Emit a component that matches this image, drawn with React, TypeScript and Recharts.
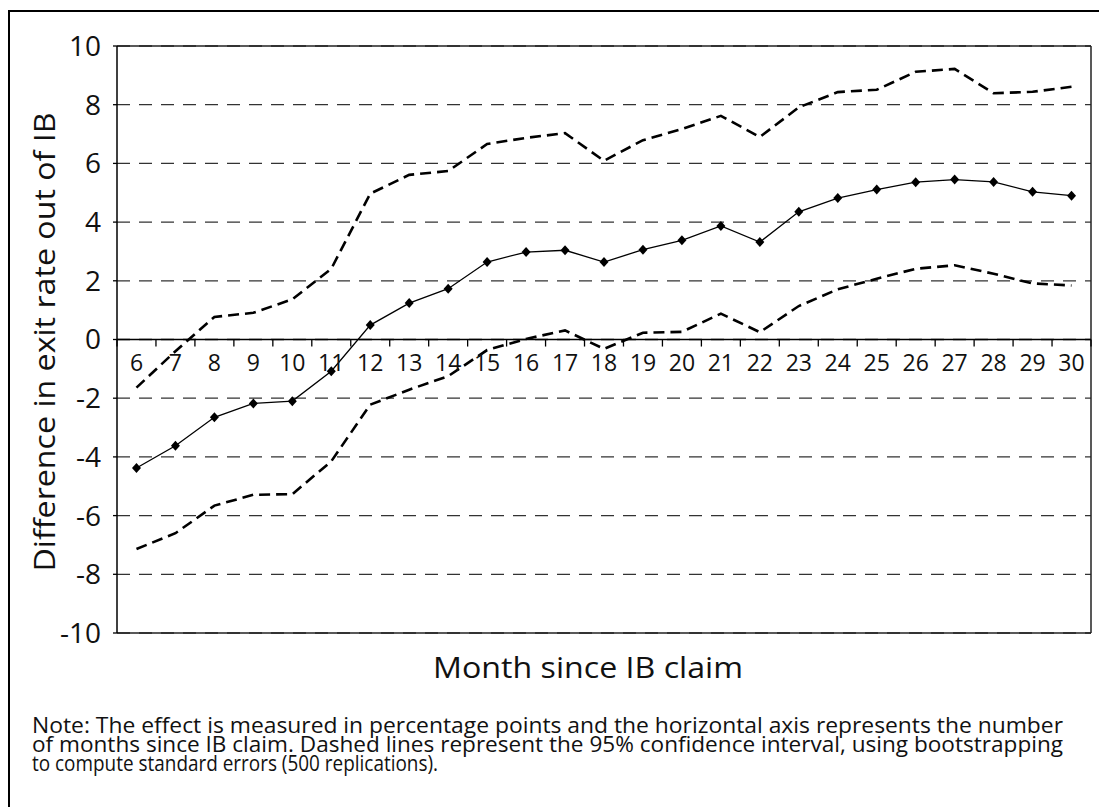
import { CartesianGrid, Line, LineChart, ReferenceLine, XAxis, YAxis } from "recharts";

const months = [6, 7, 8, 9, 10, 11, 12, 13, 14, 15, 16, 17, 18, 19, 20, 21, 22, 23, 24, 25, 26, 27, 28, 29, 30];
const effect = [-4.38, -3.62, -2.65, -2.18, -2.1, -1.08, 0.49, 1.24, 1.73, 2.64, 2.98, 3.04, 2.64, 3.06, 3.38, 3.87, 3.32, 4.35, 4.82, 5.11, 5.36, 5.45, 5.37, 5.03, 4.9];
const upper = [-1.64, -0.4, 0.77, 0.91, 1.37, 2.41, 4.97, 5.61, 5.74, 6.66, 6.87, 7.03, 6.09, 6.79, 7.17, 7.62, 6.9, 7.91, 8.43, 8.51, 9.12, 9.22, 8.39, 8.44, 8.61];
const lower = [-7.14, -6.6, -5.66, -5.29, -5.27, -4.15, -2.22, -1.71, -1.25, -0.36, 0.02, 0.31, -0.32, 0.23, 0.26, 0.88, 0.25, 1.14, 1.71, 2.07, 2.41, 2.53, 2.24, 1.91, 1.84];
const yTicks = [-10, -8, -6, -4, -2, 0, 2, 4, 6, 8, 10];
const noteLines = [
  "Note: The effect is measured in percentage points and the horizontal axis represents the number",
  "of months since IB claim. Dashed lines represent the 95% confidence interval, using bootstrapping",
  "to compute standard errors (500 replications).",
];
const noteWidths = [1031, 1031, 406];

const data = months.map((m, i) => ({ month: m, effect: effect[i], upper: upper[i], lower: lower[i], axis: 0 }));
const boundaries = [...months.map((m) => m - 0.5), months[months.length - 1] + 0.5];

const font = "'Open Sans', 'DejaVu Sans', sans-serif";

const Diamond = (props: any) => {
  const { cx, cy, index } = props;
  if (cx == null || cy == null) return null;
  return <path key={`d-${index}`} d={`M${cx},${cy - 5} L${cx + 4.5},${cy} L${cx},${cy + 5} L${cx - 4.5},${cy} Z`} fill="#000" />;
};

const MonthLabel = (props: any) => {
  const { cx, cy, payload, index } = props;
  if (cx == null || cy == null) return null;
  return (
    <text key={`m-${index}`} x={cx} y={cy + 31} textAnchor="middle" fontSize={23} fontFamily={font} fill="#111">
      {payload.month}
    </text>
  );
};

export default function App() {
  return (
    <div style={{ position: "absolute", left: 0, top: 0, width: 1099, height: 807, background: "#fff", overflow: "hidden" }}>
      <div style={{ position: "absolute", left: 8, top: 10, width: 1200, height: 900, borderLeft: "2.5px solid #000", borderTop: "2.5px solid #000" }} />
      <div style={{ position: "absolute", left: 0, top: 0 }}>
        <LineChart width={1099} height={807} data={data} margin={{ top: 46, right: 8, bottom: 174, left: 57 }}>
          <CartesianGrid vertical={false} stroke="#333" strokeWidth={1.3} strokeDasharray="13 9" />
          <XAxis dataKey="month" type="number" domain={[5.5, 30.5]} hide />
          <YAxis
            domain={[-10, 10]}
            ticks={yTicks}
            interval={0}
            width={60}
            axisLine={{ stroke: "#000", strokeWidth: 1.5 }}
            tickLine={{ stroke: "#000", strokeWidth: 1.3 }}
            tickSize={4}
            tickMargin={12}
            tick={{ fontSize: 28, fontFamily: font, fill: "#111" }}
          />
          <ReferenceLine y={10} stroke="#222" strokeWidth={1.5} />
          <ReferenceLine y={-10} stroke="#222" strokeWidth={1.5} />
          <ReferenceLine x={30.5} stroke="#222" strokeWidth={1.5} />
          <ReferenceLine y={0} stroke="#000" strokeWidth={1.6} />
          {boundaries.map((b) => (
            <ReferenceLine key={`t-${b}`} segment={[{ x: b, y: 0 }, { x: b, y: -0.24 }]} stroke="#000" strokeWidth={1.3} />
          ))}
          <Line dataKey="axis" stroke="none" dot={MonthLabel} activeDot={false} isAnimationActive={false} legendType="none" />
          <Line dataKey="upper" stroke="#000" strokeWidth={2.6} strokeDasharray="11 6" dot={false} activeDot={false} isAnimationActive={false} />
          <Line dataKey="lower" stroke="#000" strokeWidth={2.6} strokeDasharray="11 6" dot={false} activeDot={false} isAnimationActive={false} />
          <Line dataKey="effect" stroke="#000" strokeWidth={1.3} dot={Diamond} activeDot={false} isAnimationActive={false} />
        </LineChart>
      </div>
      <svg width={1099} height={807} style={{ position: "absolute", left: 0, top: 0, pointerEvents: "none" }}>
        <text
          x={55}
          y={342}
          transform="rotate(-90, 55, 342)"
          textAnchor="middle"
          fontSize={30}
          fontFamily={font}
          fill="#111"
          textLength={459}
          lengthAdjust="spacingAndGlyphs"
        >
          Difference in exit rate out of IB
        </text>
        <text x={433} y={678} fontSize={29} fontFamily={font} fill="#111" textLength={310} lengthAdjust="spacingAndGlyphs">
          Month since IB claim
        </text>
        {noteLines.map((line, i) => (
          <text
            key={i}
            x={32}
            y={733 + i * 19}
            fontSize={21.5}
            fontFamily={font}
            fill="#111"
            textLength={noteWidths[i]}
            lengthAdjust="spacingAndGlyphs"
          >
            {line}
          </text>
        ))}
      </svg>
    </div>
  );
}
